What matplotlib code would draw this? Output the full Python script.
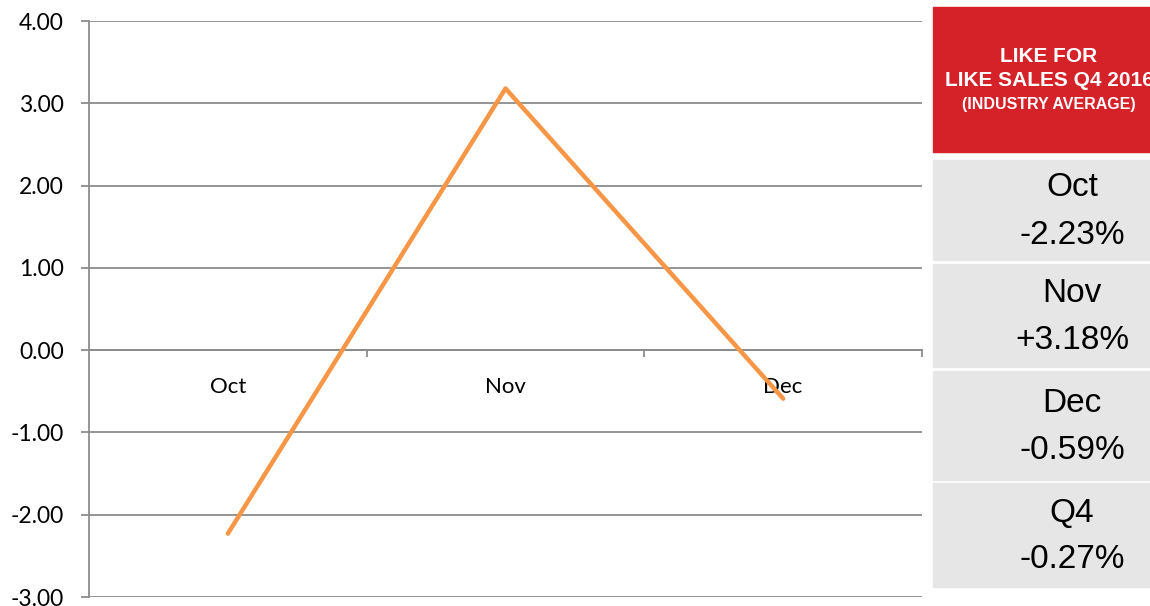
import matplotlib.pyplot as plt
from matplotlib.patches import Rectangle
from matplotlib.ticker import FixedLocator, FormatStrFormatter

months = ['Oct', 'Nov', 'Dec']
lfl = [-2.23, 3.18, -0.59]
panel_labels = ['Oct', 'Nov', 'Dec', 'Q4']
panel_values = ['-2.23%', '+3.18%', '-0.59%', '-0.27%']

grey = '#8c8c8c'
fig = plt.figure(figsize=(11.5, 6.06), dpi=100)
W, H = 1150, 606
ax = fig.add_axes([89 / W, 1 - 597 / H, (922 - 89) / W, (597 - 21) / H])

x = range(len(months))
ax.plot(x, lfl, color='#f79646', lw=3.2, solid_capstyle='round', zorder=3)

ax.set_xlim(-0.5, 2.5)
ax.set_ylim(-3, 4)
ax.set_yticks(range(-3, 5))
ax.yaxis.set_major_formatter(FormatStrFormatter('%.2f'))
ax.grid(axis='y', color=grey, lw=1.3)
ax.set_axisbelow(True)

for s in ['top', 'right']:
    ax.spines[s].set_visible(False)
ax.spines['left'].set_color(grey)
ax.spines['left'].set_linewidth(1.3)
ax.spines['bottom'].set_position(('data', 0))
ax.spines['bottom'].set_color(grey)
ax.spines['bottom'].set_linewidth(1.3)

ax.set_xticks(list(x))
ax.set_xticklabels(months)
ax.xaxis.set_minor_locator(FixedLocator([0.5, 1.5, 2.5]))
ax.tick_params(axis='x', which='major', length=0, pad=19, labelsize=16)
ax.tick_params(axis='x', which='minor', length=5, color=grey, width=1.3)
ax.tick_params(axis='y', length=6, color=grey, width=1.3, labelsize=16.5, pad=12)
for t in ax.get_xticklabels() + ax.get_yticklabels():
    t.set_fontfamily(['Lato', 'DejaVu Sans'])

# side panel
def fx(px):
    return px / W

def fy(py):
    return 1 - py / H

fig.patches.append(Rectangle((fx(933), fy(152)), fx(260), (152 - 7) / H,
                             transform=fig.transFigure, color='#d52128', zorder=0))
cx = fx(1049)
fig.text(cx, fy(56), 'LIKE FOR', color='white', fontsize=15, fontweight='bold',
         ha='center', va='center', family='Liberation Sans')
fig.text(cx, fy(81), 'LIKE SALES Q4 2016', color='white', fontsize=15, fontweight='bold',
         ha='center', va='center', family='Liberation Sans')
fig.text(cx, fy(104), '(INDUSTRY AVERAGE)', color='white', fontsize=11.5, fontweight='bold',
         ha='center', va='center', family='Liberation Sans')

boxes = [(160, 260), (264, 367), (371, 480), (483, 587)]
for (top, bot), lab, val in zip(boxes, panel_labels, panel_values):
    fig.patches.append(Rectangle((fx(933), fy(bot)), fx(260), (bot - top) / H,
                                 transform=fig.transFigure, color='#e6e6e6', zorder=0))
    mid = (top + bot) / 2
    fig.text(fx(1072), fy(mid - 22), lab, fontsize=24, ha='center', va='center',
             family='Liberation Sans')
    fig.text(fx(1072), fy(mid + 25), val, fontsize=24, ha='center', va='center',
             family='Liberation Sans')

fig.savefig('out.png', dpi=100)
